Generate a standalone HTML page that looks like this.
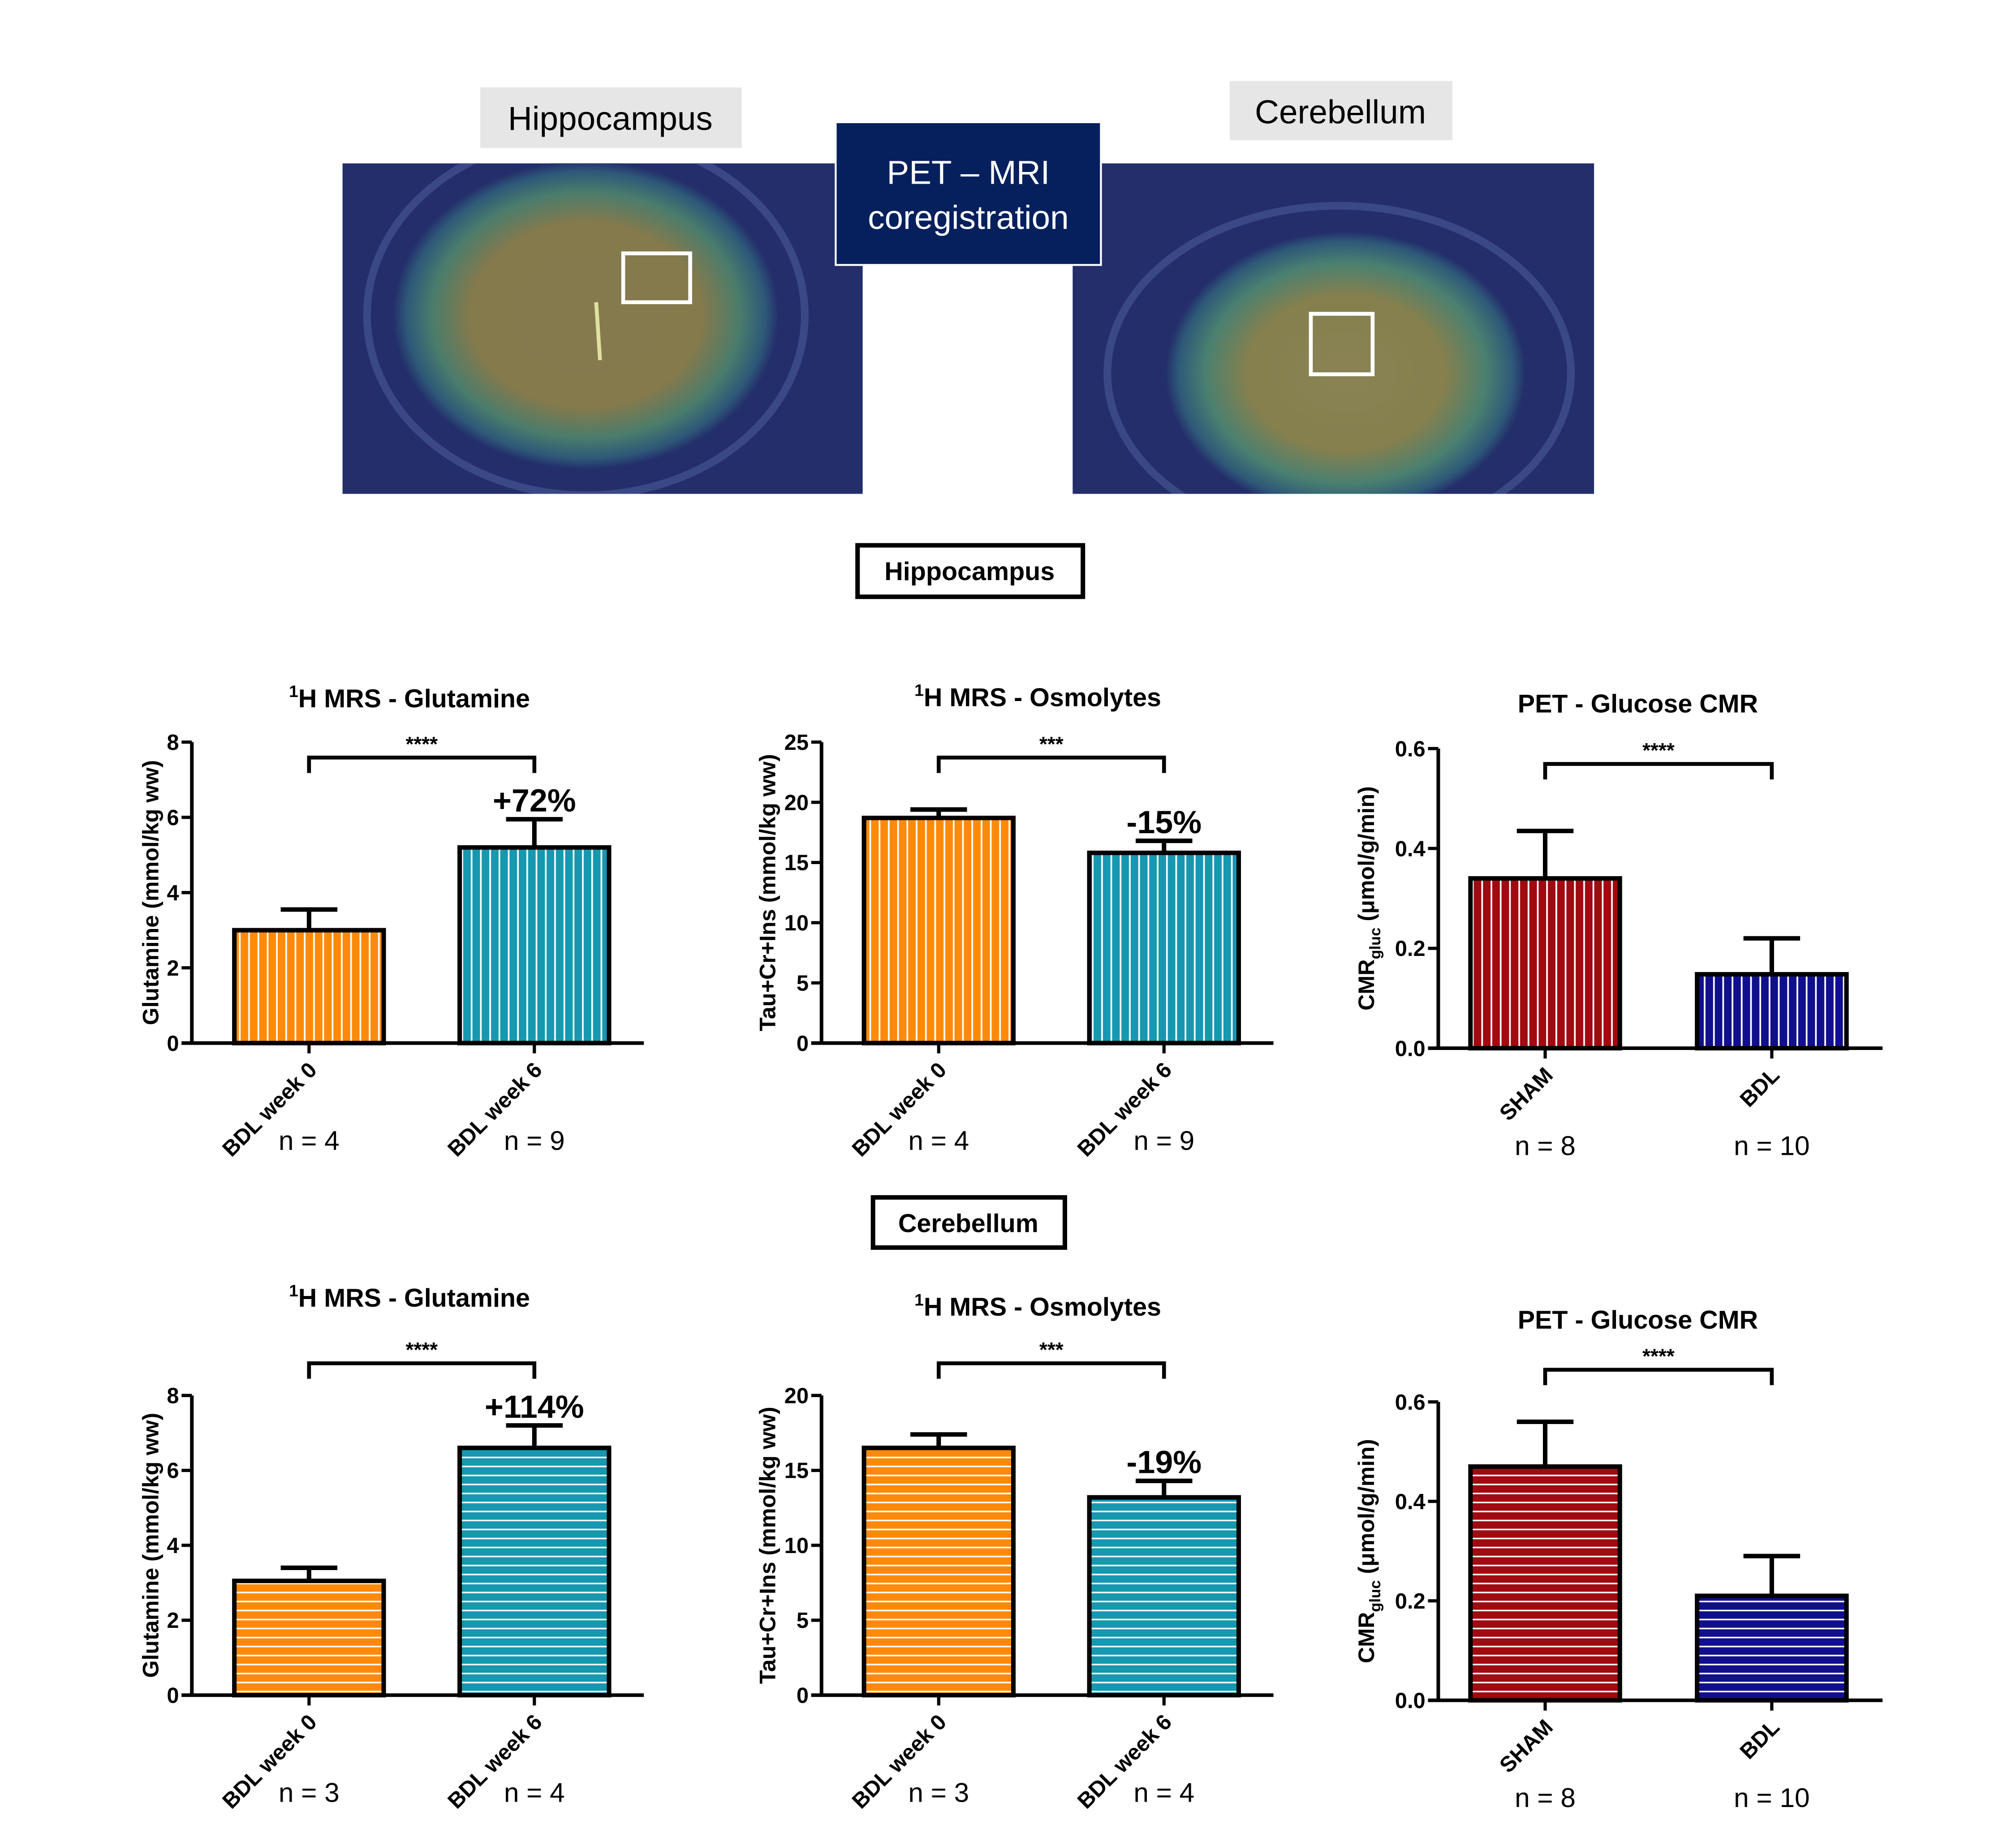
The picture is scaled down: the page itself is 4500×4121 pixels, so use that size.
<!DOCTYPE html>
<html><head><meta charset="utf-8"><style>
html,body{margin:0;padding:0;background:#fff;}
svg{display:block;font-family:"Liberation Sans",Arial,sans-serif;}
</style></head><body>
<svg id="fig" width="4500" height="4121" viewBox="0 0 1550 1419.5" preserveAspectRatio="none" xmlns="http://www.w3.org/2000/svg">
<defs>
<pattern id="vOrange" patternUnits="userSpaceOnUse" width="7.2" height="10"><rect width="7.2" height="10" fill="#ff8a0a"/><rect x="5.6" width="1.3" height="10" fill="#fff"/></pattern>
<pattern id="vTeal" patternUnits="userSpaceOnUse" width="7.2" height="10"><rect width="7.2" height="10" fill="#1598b0"/><rect x="5.6" width="1.3" height="10" fill="#fff"/></pattern>
<pattern id="vRed" patternUnits="userSpaceOnUse" width="7.2" height="10"><rect width="7.2" height="10" fill="#a00a10"/><rect x="5.6" width="1.3" height="10" fill="#fff"/></pattern>
<pattern id="vBlue" patternUnits="userSpaceOnUse" width="7.2" height="10"><rect width="7.2" height="10" fill="#10108c"/><rect x="5.6" width="1.3" height="10" fill="#fff"/></pattern>
<pattern id="hOrange" patternUnits="userSpaceOnUse" width="10" height="7"><rect width="10" height="7" fill="#ff8a0a"/><rect y="5.6" width="10" height="1.2" fill="#fff"/></pattern>
<pattern id="hTeal" patternUnits="userSpaceOnUse" width="10" height="7"><rect width="10" height="7" fill="#1598b0"/><rect y="5.6" width="10" height="1.2" fill="#fff"/></pattern>
<pattern id="hRed" patternUnits="userSpaceOnUse" width="10" height="7"><rect width="10" height="7" fill="#a00a10"/><rect y="5.6" width="10" height="1.2" fill="#fff"/></pattern>
<pattern id="hBlue" patternUnits="userSpaceOnUse" width="10" height="7"><rect width="10" height="7" fill="#10108c"/><rect y="5.6" width="10" height="1.2" fill="#fff"/></pattern>
<radialGradient id="brainL" cx="0.5" cy="0.5" r="0.5"><stop offset="0" stop-color="#857a4e"/><stop offset="0.6" stop-color="#847a4c"/><stop offset="0.8" stop-color="#4a7c6c"/><stop offset="0.93" stop-color="#2e5878"/><stop offset="1" stop-color="#232e6a"/></radialGradient>
<radialGradient id="brainR" cx="0.5" cy="0.5" r="0.5"><stop offset="0" stop-color="#8a8254"/><stop offset="0.55" stop-color="#85804e"/><stop offset="0.78" stop-color="#4a8070"/><stop offset="0.93" stop-color="#2e5878"/><stop offset="1" stop-color="#232e6a"/></radialGradient>
<clipPath id="clipL"><rect x="266" y="127" width="404" height="257"/></clipPath>
<clipPath id="clipR"><rect x="833" y="127" width="405" height="257"/></clipPath>
</defs>
<g transform="scale(0.99,0.989)">
<!-- top images -->
<rect x="373" y="68" width="203" height="47" fill="#e6e6e6"/>
<text x="474" y="101" font-size="26" text-anchor="middle">Hippocampus</text>
<rect x="955" y="63" width="173" height="46" fill="#e6e6e6"/>
<text x="1041" y="96" font-size="26" text-anchor="middle">Cerebellum</text>

<g clip-path="url(#clipL)">
<rect x="266" y="127" width="404" height="257" fill="#232e6a"/>
<ellipse cx="455" cy="245" rx="170" ry="140" fill="none" stroke="#4a5a9a" stroke-width="6" opacity="0.6"/>
<ellipse cx="455" cy="245" rx="150" ry="120" fill="url(#brainL)"/>
<path d="M463 235 L466 280" stroke="#e0e0a0" stroke-width="3"/>
<rect x="484" y="197" width="52" height="38" fill="none" stroke="#fff" stroke-width="3"/>
</g>
<g clip-path="url(#clipR)">
<rect x="833" y="127" width="405" height="257" fill="#232e6a"/>
<ellipse cx="1040" cy="290" rx="180" ry="130" fill="none" stroke="#4a5a9a" stroke-width="6" opacity="0.6"/>
<ellipse cx="1045" cy="290" rx="140" ry="110" fill="url(#brainR)"/>
<rect x="1018" y="244" width="48" height="47" fill="none" stroke="#fff" stroke-width="3"/>
</g>
<rect x="649" y="95" width="206" height="111" fill="#06205e" stroke="#fff" stroke-width="1.5"/>
<text x="752" y="143" font-size="26" fill="#fff" text-anchor="middle">PET – MRI</text>
<text x="752" y="178" font-size="26" fill="#fff" text-anchor="middle">coregistration</text>

<rect x="666" y="424" width="175" height="40" fill="#fff" stroke="#000" stroke-width="3.5"/>
<text x="753" y="451" font-size="20" font-weight="bold" text-anchor="middle">Hippocampus</text>
<rect x="678" y="931" width="149" height="39" fill="#fff" stroke="#000" stroke-width="3.5"/>
<text x="752" y="958" font-size="20" font-weight="bold" text-anchor="middle">Cerebellum</text>
<g id="charts"></g>
</g>
</svg>
<script>
// ---- data ----
const hipGlutValues = [3.0, 5.2];
const hipGlutErrors = [0.55, 0.75];
const hipOsmValues = [18.7, 15.8];
const hipOsmErrors = [0.7, 1.0];
const hipPetValues = [0.34, 0.148];
const hipPetErrors = [0.095, 0.072];
const cbGlutValues = [3.05, 6.6];
const cbGlutErrors = [0.35, 0.6];
const cbOsmValues = [16.5, 13.2];
const cbOsmErrors = [0.9, 1.1];
const cbPetValues = [0.47, 0.21];
const cbPetErrors = [0.09, 0.08];
const mrsCategories = ["BDL week 0", "BDL week 6"];
const petCategories = ["SHAM", "BDL"];
const hipMrsN = ["n = 4", "n = 9"];
const cbMrsN = ["n = 3", "n = 4"];
const petN = ["n = 8", "n = 10"];
const glutTicks = [0, 2, 4, 6, 8];
const hipOsmTicks = [0, 5, 10, 15, 20, 25];
const cbOsmTicks = [0, 5, 10, 15, 20];
const petTicks = ["0.0", "0.2", "0.4", "0.6"];
const hipPct = ["+72%", "-15%"];
const cbPct = ["+114%", "-19%"];
const sig = ["****", "***", "****"];

const NS = "http://www.w3.org/2000/svg";
const root = document.getElementById('charts');
function el(tag, attrs, parent, text) {
  const e = document.createElementNS(NS, tag);
  for (const k in attrs) e.setAttribute(k, attrs[k]);
  if (text !== undefined) e.textContent = text;
  (parent || root).appendChild(e);
  return e;
}

function drawChart(o) {
  const g = el('g', {});
  
  
  const max = o.max;
  const y = v => o.y0 - (v / max) * (o.y0 - o.yTop);
  const t = el('text', {x: o.titleX, y: o.titleY, 'font-size': 20, 'font-weight': 'bold', 'text-anchor': 'middle'}, g);
  
  
  if (o.sup) {
    el('tspan', {'font-size': 13, dy: -8}, t, '1');
    el('tspan', {dy: 8}, t, o.title);
  } else t.textContent = o.title;
  for (let i = 0; i < o.values.length; i++) {
    const cx = o.barX[i] + o.barW / 2;
    const top = y(o.values[i]);
    const et = y(o.values[i] + o.errors[i]);
    const eb = el('path', {d: `M${cx} ${top} V${et} M${cx - o.capW} ${et} H${cx + o.capW}`, stroke: '#000', 'stroke-width': 3.5, fill: 'none'}, g);
    
    
    const b = el('rect', {x: o.barX[i], y: top, width: o.barW, height: o.y0 - top, fill: `url(#${o.fills[i]})`, stroke: '#000', 'stroke-width': 3.5}, g);
    
    
    const tk = el('line', {x1: cx, x2: cx, y1: o.y0, y2: o.y0 + 8, stroke: '#000', 'stroke-width': 2.5}, g);
    
    
    const lab = el('text', {x: 0, y: 0, 'font-size': 17, 'font-weight': 'bold', 'text-anchor': 'end', transform: `translate(${cx + 7},${o.y0 + 22}) rotate(-45)`}, g, o.cats[i]);
    
    
    const n = el('text', {x: cx, y: o.nY, 'font-size': 21, 'text-anchor': 'middle'}, g, o.n[i]);
    
    
    if (i === 1 && o.pct) {
      const p = el('text', {x: cx, y: et - 6, 'font-size': 25, 'font-weight': 'bold', 'text-anchor': 'middle'}, g, o.pct);
      
      
    }
  }
  const ax = el('path', {d: `M${o.axisX} ${o.yTop} V${o.y0} M${o.axisX - 8} ${o.y0} H${o.axisEnd}`, stroke: '#000', 'stroke-width': 2.8, fill: 'none'}, g);
  
  
  o.ticks.forEach(tv => {
    const v = parseFloat(tv);
    const yy = y(v);
    const tl = el('line', {x1: o.axisX - 8, x2: o.axisX, y1: yy, y2: yy, stroke: '#000', 'stroke-width': 2.5}, g);
    
    
    const tt = el('text', {x: o.axisX - 10, y: yy + 6, 'font-size': 17, 'font-weight': 'bold', 'text-anchor': 'end'}, g, tv);
    
    
  });
  const yt = el('text', {x: 0, y: 0, 'font-size': 17.5, 'font-weight': 'bold', 'text-anchor': 'middle', transform: `translate(${o.yTitleX},${(o.y0 + o.yTop) / 2}) rotate(-90)`}, g);
  
  
  if (o.cmr) {
    el('tspan', {}, yt, 'CMR');
    el('tspan', {'font-size': 12, dy: 5}, yt, 'gluc');
    el('tspan', {dy: -5}, yt, ' (μmol/g/min)');
  } else yt.textContent = o.yTitle;
  const c0 = o.barX[0] + o.barW / 2, c1 = o.barX[1] + o.barW / 2;
  const br = el('path', {d: `M${c0} ${o.brY + 12} V${o.brY} H${c1} V${o.brY + 12}`, stroke: '#000', 'stroke-width': 3, fill: 'none'}, g);
  
  
  const st = el('text', {x: (c0 + c1) / 2, y: o.brY - 5, 'font-size': 16, 'font-weight': 'bold', 'text-anchor': 'middle'}, g, o.sig);
  
  
}

drawChart({name: 'hippocampus-glutamine-chart', sup: true, title: 'H MRS - Glutamine', titleX: 318, titleY: 550,
  values: hipGlutValues, errors: hipGlutErrors, cats: mrsCategories, n: hipMrsN, ticks: glutTicks, max: 8,
  axisX: 149, axisEnd: 500, y0: 811, yTop: 577, barX: [182, 357], barW: 116, capW: 22, fills: ['vOrange', 'vTeal'],
  yTitle: 'Glutamine (mmol/kg ww)', yTitleX: 123, brY: 589, sig: sig[0], pct: hipPct[0], nY: 894});
drawChart({name: 'hippocampus-osmolytes-chart', sup: true, title: 'H MRS - Osmolytes', titleX: 806, titleY: 549,
  values: hipOsmValues, errors: hipOsmErrors, cats: mrsCategories, n: hipMrsN, ticks: hipOsmTicks, max: 25,
  axisX: 638, axisEnd: 989, y0: 811, yTop: 577, barX: [671, 846], barW: 116, capW: 22, fills: ['vOrange', 'vTeal'],
  yTitle: 'Tau+Cr+Ins (mmol/kg ww)', yTitleX: 602, brY: 589, sig: sig[1], pct: hipPct[1], nY: 894});
drawChart({name: 'hippocampus-pet-chart', sup: false, title: 'PET - Glucose CMR', titleX: 1272, titleY: 554,
  values: hipPetValues, errors: hipPetErrors, cats: petCategories, n: petN, ticks: petTicks, max: 0.6,
  axisX: 1117, axisEnd: 1462, y0: 815, yTop: 582, barX: [1142, 1318], barW: 116, capW: 22, fills: ['vRed', 'vBlue'],
  cmr: true, yTitleX: 1067, brY: 594, sig: sig[2], pct: null, nY: 898});

drawChart({name: 'cerebellum-glutamine-chart', sup: true, title: 'H MRS - Glutamine', titleX: 318, titleY: 1016,
  values: cbGlutValues, errors: cbGlutErrors, cats: mrsCategories, n: cbMrsN, ticks: glutTicks, max: 8,
  axisX: 149, axisEnd: 500, y0: 1318, yTop: 1085, barX: [182, 357], barW: 116, capW: 22, fills: ['hOrange', 'hTeal'],
  yTitle: 'Glutamine (mmol/kg ww)', yTitleX: 123, brY: 1060, sig: sig[0], pct: cbPct[0], nY: 1401});
drawChart({name: 'cerebellum-osmolytes-chart', sup: true, title: 'H MRS - Osmolytes', titleX: 806, titleY: 1023,
  values: cbOsmValues, errors: cbOsmErrors, cats: mrsCategories, n: cbMrsN, ticks: cbOsmTicks, max: 20,
  axisX: 638, axisEnd: 989, y0: 1318, yTop: 1085, barX: [671, 846], barW: 116, capW: 22, fills: ['hOrange', 'hTeal'],
  yTitle: 'Tau+Cr+Ins (mmol/kg ww)', yTitleX: 602, brY: 1060, sig: sig[1], pct: cbPct[1], nY: 1401});
drawChart({name: 'cerebellum-pet-chart', sup: false, title: 'PET - Glucose CMR', titleX: 1272, titleY: 1033,
  values: cbPetValues, errors: cbPetErrors, cats: petCategories, n: petN, ticks: petTicks, max: 0.6,
  axisX: 1117, axisEnd: 1462, y0: 1322, yTop: 1090, barX: [1142, 1318], barW: 116, capW: 22, fills: ['hRed', 'hBlue'],
  cmr: true, yTitleX: 1067, brY: 1065, sig: sig[2], pct: null, nY: 1405});
</script>
</body></html>
